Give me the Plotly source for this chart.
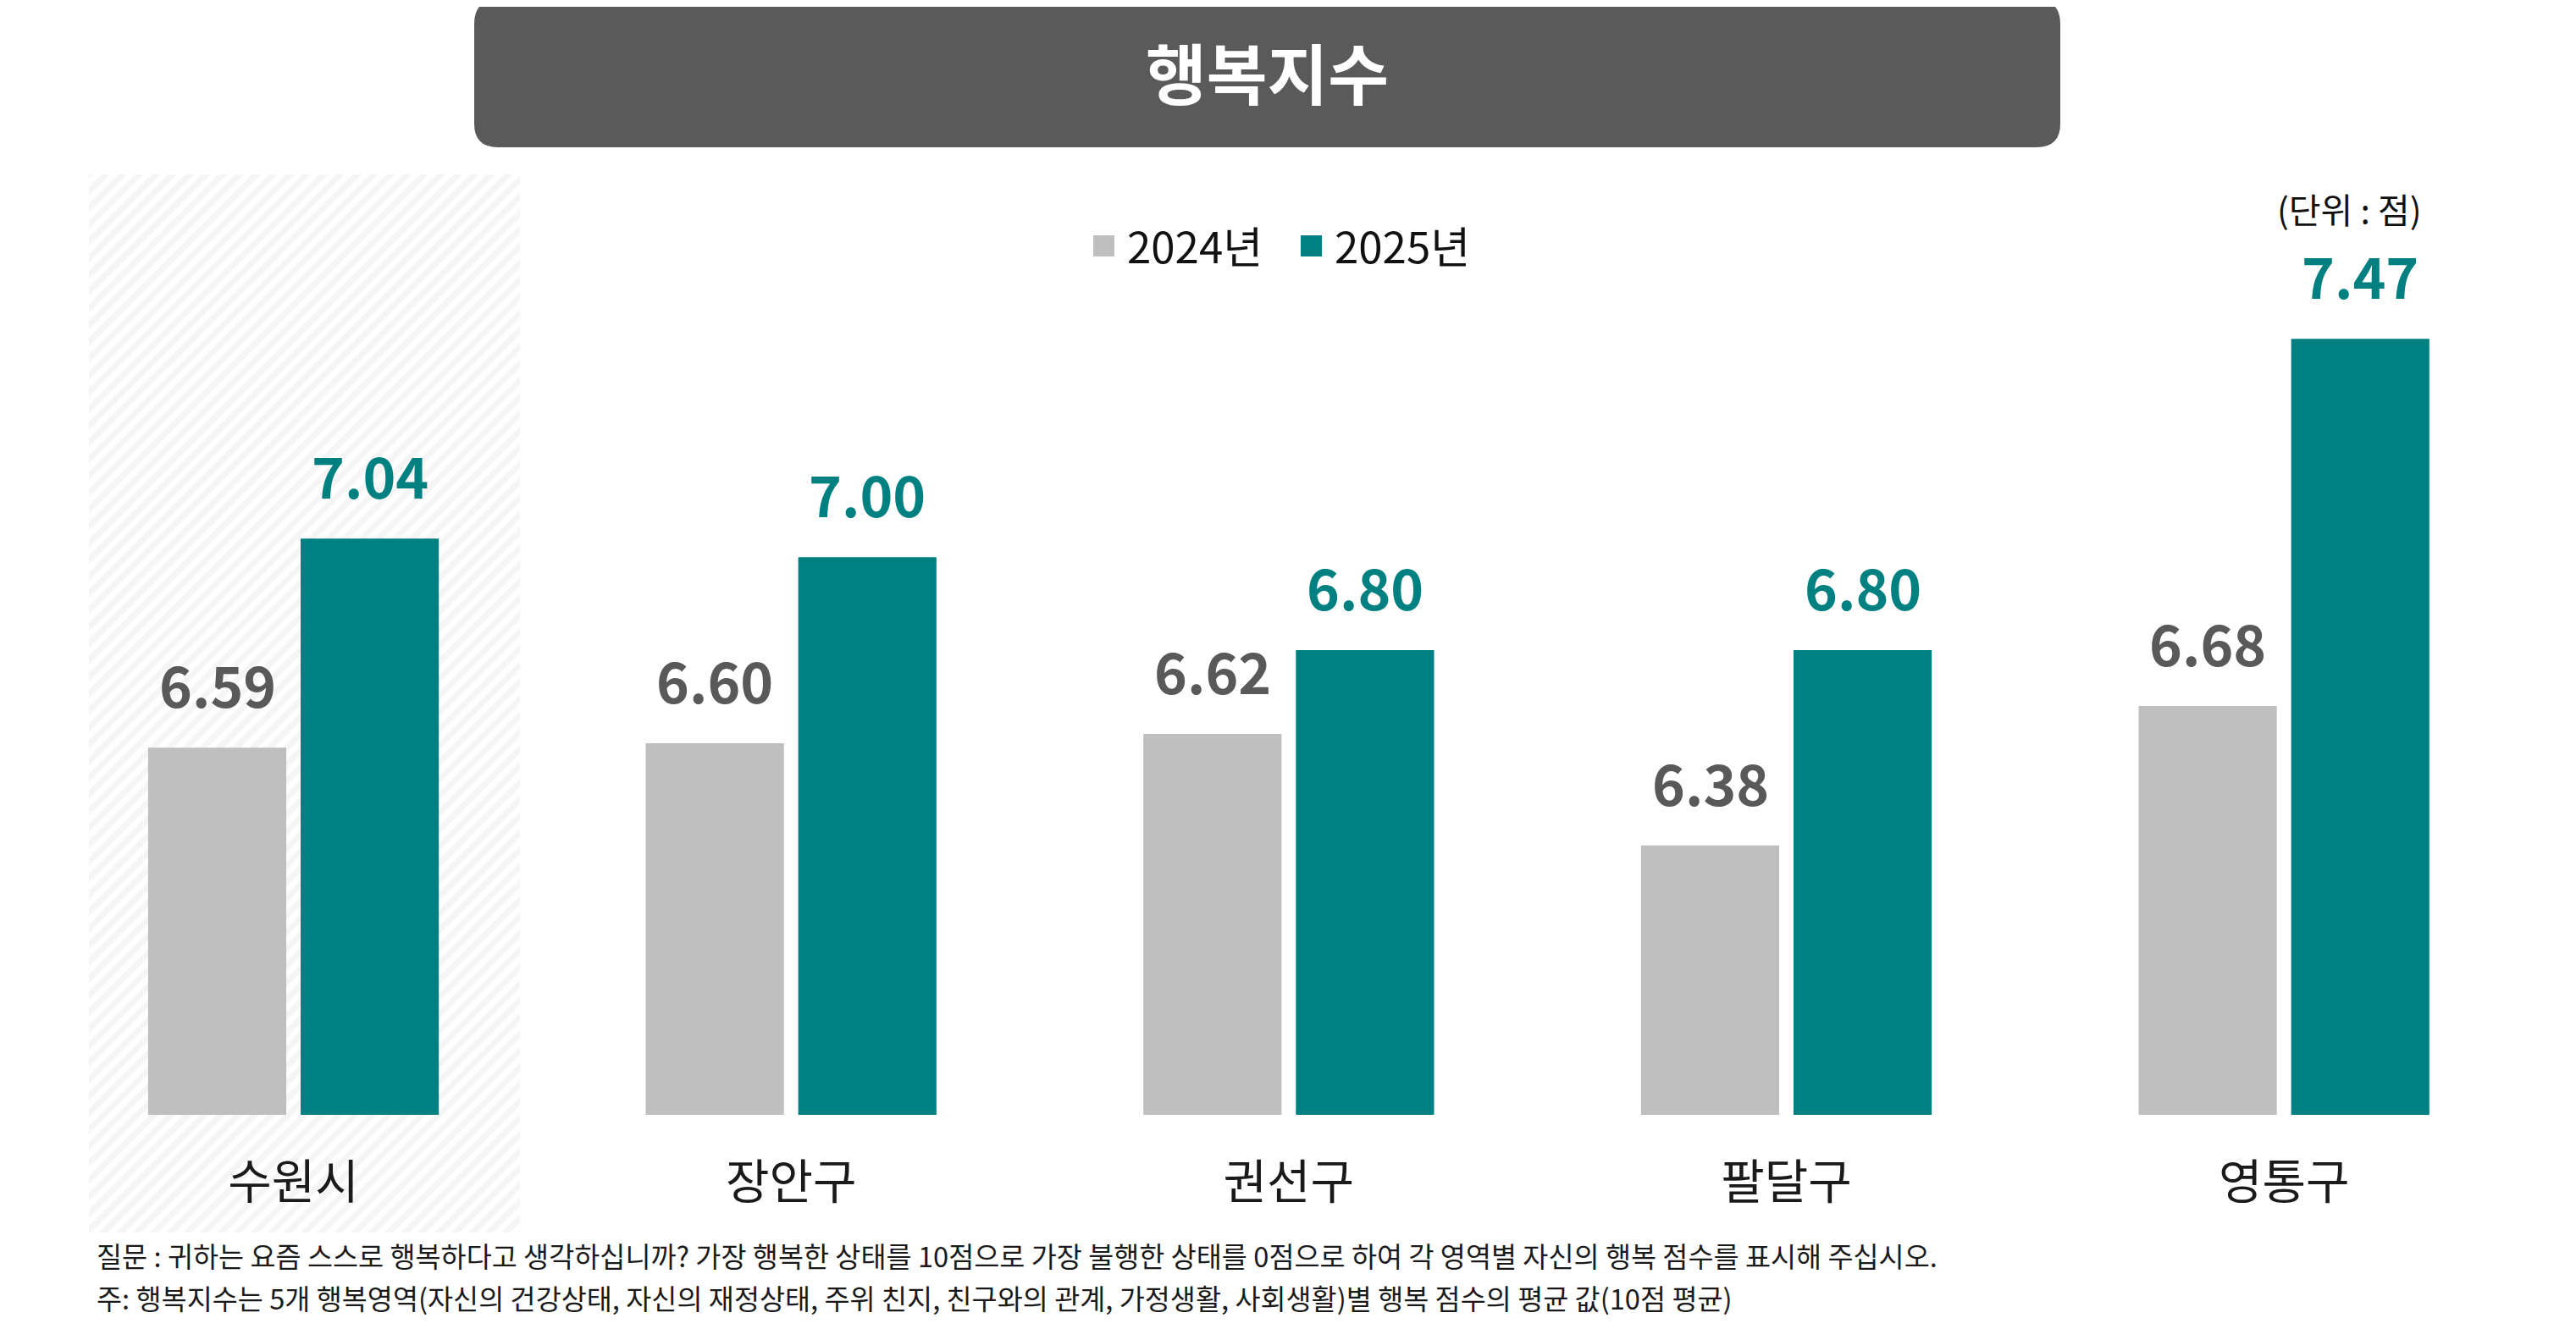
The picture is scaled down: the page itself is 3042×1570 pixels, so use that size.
import plotly.graph_objects as go

W, H = 3042, 1570
PAD = 8  # page body margin

categories = ["수원시", "장안구", "권선구", "팔달구", "영통구"]
years = ["2024년", "2025년"]
values_2024 = [6.59, 6.60, 6.62, 6.38, 6.68]
values_2025 = [7.04, 7.00, 6.80, 6.80, 7.47]

bar_colors = ["#bfbfbf", "#008080"]
label_colors = ["#595959", "#008080"]

title_text = "행복지수"
unit_text = "(단위 : 점)"
note_lines = [
    "질문 : 귀하는 요즘 스스로 행복하다고 생각하십니까? 가장 행복한 상태를 10점으로 가장 불행한 상태를 0점으로 하여 각 영역별 자신의 행복 점수를 표시해 주십시오.",
    "주: 행복지수는 5개 행복영역(자신의 건강상태, 자신의 재정상태, 주위 친지, 친구와의 관계, 가정생활, 사회생활)별 행복 점수의 평균 값(10점 평균)",
]

FONT = "Noto Sans CJK KR"
FW, FH = W - 2 * PAD, H - 2 * PAD


def px(x):
    return (x - PAD) / FW


def py(y):
    return 1 - (y - PAD) / FH


def rounded_rect(x0, y0, x1, y1, r):
    # pixel box -> paper path with rounded corners
    pts = [
        f"M{px(x0 + r)},{py(y0)}",
        f"L{px(x1 - r)},{py(y0)}",
        f"Q{px(x1)},{py(y0)} {px(x1)},{py(y0 + r)}",
        f"L{px(x1)},{py(y1 - r)}",
        f"Q{px(x1)},{py(y1)} {px(x1 - r)},{py(y1)}",
        f"L{px(x0 + r)},{py(y1)}",
        f"Q{px(x0)},{py(y1)} {px(x0)},{py(y1 - r)}",
        f"L{px(x0)},{py(y0 + r)}",
        f"Q{px(x0)},{py(y0)} {px(x0 + r)},{py(y0)}",
        "Z",
    ]
    return " ".join(pts)


fig = go.Figure()

# hatched background panel behind the first group
fig.add_trace(go.Bar(
    x=[0], y=[1], width=[1],
    xaxis="x", yaxis="y",
    marker=dict(color="white", line=dict(width=0),
                pattern=dict(shape="/", fgcolor="#ececec", bgcolor="white",
                             size=14, solidity=0.5)),
    showlegend=False, hoverinfo="skip",
))

for name, vals, col in zip(years, [values_2024, values_2025], bar_colors):
    fig.add_trace(go.Bar(
        x=categories, y=vals, name=name,
        xaxis="x2", yaxis="y2",
        marker=dict(color=col, line=dict(width=0)),
        showlegend=False,
    ))

annotations = []
for vals, col, shift in zip([values_2024, values_2025], label_colors, [-90, 90]):
    for c, v in zip(categories, vals):
        annotations.append(dict(
            x=c, y=v, xref="x2", yref="y2", text=f"{v:.2f}",
            showarrow=False, xshift=shift, yshift=26, yanchor="bottom",
            font=dict(family=FONT, size=66, color=col, weight="bold"),
        ))

annotations.append(dict(
    x=px(1496), y=py(84), xref="paper", yref="paper", text=title_text,
    showarrow=False, xanchor="center", yanchor="middle",
    font=dict(family=FONT, size=78, color="white", weight="bold"),
))
annotations.append(dict(
    x=px(2862), y=py(246), xref="paper", yref="paper", text=unit_text,
    showarrow=False, xanchor="right", yanchor="middle",
    font=dict(family=FONT, size=41, color="#111111"),
))
for y_pix, txt in zip([1482, 1532], note_lines):
    annotations.append(dict(
        x=px(112), y=py(y_pix), xref="paper", yref="paper", text=txt,
        showarrow=False, xanchor="left", yanchor="middle",
        font=dict(family=FONT, size=32.7, color="#1a1a1a"),
    ))

# legend drawn by hand: coloured square + label
shapes = [dict(type="path", path=rounded_rect(560, 0, 2433, 174, 28),
               xref="paper", yref="paper", fillcolor="#5a5a5a", line=dict(width=0),
               layer="below")]
for name, col, x_sq in zip(years, bar_colors, [1291, 1536]):
    shapes.append(dict(type="rect", xref="paper", yref="paper",
                       x0=px(x_sq), x1=px(x_sq + 25), y0=py(303), y1=py(278),
                       fillcolor=col, line=dict(width=0)))
    annotations.append(dict(
        x=px(x_sq + 38), y=py(289), xref="paper", yref="paper", text=name,
        showarrow=False, xanchor="left", yanchor="middle",
        font=dict(family=FONT, size=51, color="#111111"),
    ))

axis_off = dict(showgrid=False, zeroline=False, showticklabels=False, showline=False)

fig.update_layout(
    width=FW, height=FH,
    margin=dict(l=0, r=0, t=0, b=0),
    paper_bgcolor="white", plot_bgcolor="rgba(0,0,0,0)",
    barmode="group", bargap=0.387, bargroupgap=0.094,
    xaxis=dict(domain=[px(105), px(614)], range=[-0.5, 0.5], fixedrange=True, **axis_off),
    yaxis=dict(domain=[py(1456), py(206)], range=[0, 1], fixedrange=True, **axis_off),
    xaxis2=dict(domain=[px(52.7), px(2991)], range=[-0.5, 4.5], anchor="y2",
                showgrid=False, zeroline=False, showline=False, ticks="",
                ticklabelstandoff=42,
                tickfont=dict(family=FONT, size=56, color="#1a1a1a")),
    yaxis2=dict(domain=[py(1317), py(200)], range=[5.8, 7.835], anchor="x2",
                **axis_off),
    shapes=shapes,
    annotations=annotations,
    font=dict(family=FONT),
)

fig.write_html("out.html")
